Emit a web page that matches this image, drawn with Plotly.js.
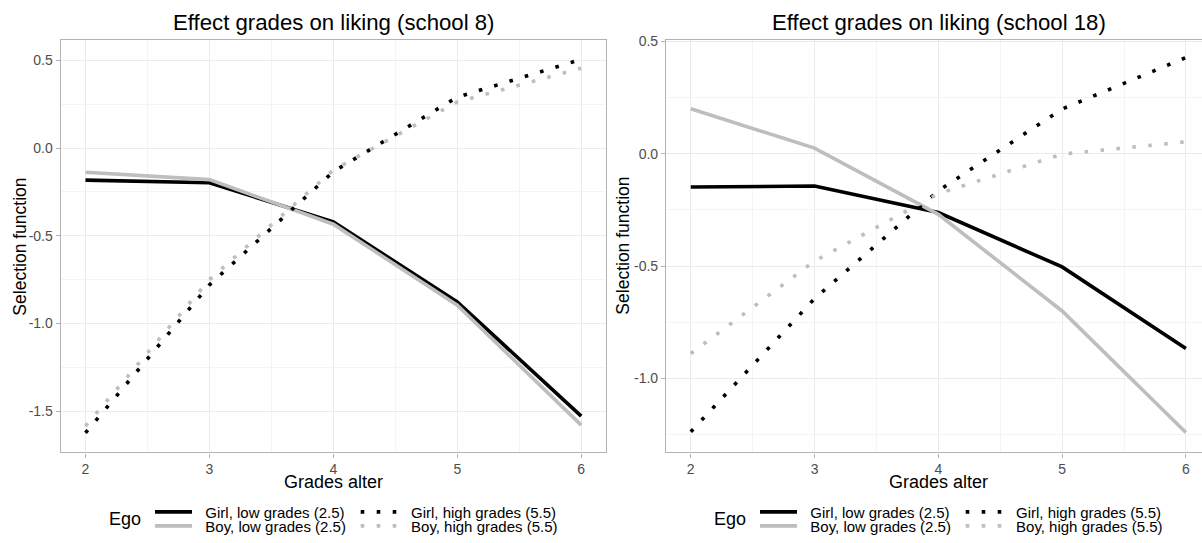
<!DOCTYPE html>
<html>
<head>
<meta charset="utf-8">
<script src="https://cdn.plot.ly/plotly-3.0.1.min.js"></script>
<style>html,body{margin:0;padding:0;background:#fff;}</style>
</head>
<body>
<div id="chart" style="width:1202px;height:543px;"></div>
<script>
// ---- data ----
var gradesAlter = [2, 3, 4, 5, 6];
var seriesNames = ["Girl, low grades (2.5)", "Boy, low grades (2.5)", "Girl, high grades (5.5)", "Boy, high grades (5.5)"];
// school 8
var s8GirlLow  = [-0.183, -0.198, -0.421, -0.877, -1.528];
var s8BoyLow   = [-0.138, -0.180, -0.434, -0.896, -1.579];
var s8GirlHigh = [-1.623, -0.780, -0.135, 0.290, 0.505];
var s8BoyHigh  = [-1.585, -0.750, -0.125, 0.262, 0.455];
// school 18
var s18GirlLow  = [-0.148, -0.144, -0.262, -0.504, -0.867];
var s18BoyLow   = [0.200, 0.025, -0.270, -0.700, -1.241];
var s18GirlHigh = [-1.238, -0.645, -0.165, 0.199, 0.428];
var s18BoyHigh  = [-0.890, -0.478, -0.178, -0.002, 0.053];
// tick labels
var xTickVals = [2, 3, 4, 5, 6];
var xTickText = ["2", "3", "4", "5", "6"];
var y8TickVals = [0.5, 0, -0.5, -1, -1.5];
var y8TickText = ["0.5", "0.0", "-0.5", "-1.0", "-1.5"];
var y18TickVals = [0.5, 0, -0.5, -1];
var y18TickText = ["0.5", "0.0", "-0.5", "-1.0"];
var xMinorVals = [2.5, 3.5, 4.5, 5.5];
var y8MinorVals = [0.25, -0.25, -0.75, -1.25];
var y18MinorVals = [0.25, -0.25, -0.75, -1.25];

// ---- styling ----
var W = 1202, H = 543;
function px(x) { return x / W; }
function py(y) { return 1 - y / H; }
var FONT = "Liberation Sans, Arial, Helvetica, sans-serif";
var BLACK = "#000000", GREY = "#BEBEBE";
var LW = 3.6;
var DOT = "3.6px,12.4px";
var styles = [
  {color: BLACK, dash: "solid"},
  {color: GREY, dash: "solid"},
  {color: BLACK, dash: DOT},
  {color: GREY, dash: DOT}
];
var GAP = "\u00a0\u00a0"; // extra space between key and label, as in the reference

function makeTraces(vals, xa, ya, legendIds) {
  return vals.map(function (v, i) {
    return {
      type: "scatter", mode: "lines",
      x: gradesAlter, y: v,
      xaxis: xa, yaxis: ya,
      name: GAP + seriesNames[i],
      legend: legendIds[i],
      line: {color: styles[i].color, width: LW, dash: styles[i].dash},
      hoverinfo: "x+y"
    };
  });
}

var traces = []
  .concat(makeTraces([s8GirlLow, s8BoyLow, s8GirlHigh, s8BoyHigh], "x", "y", ["legend", "legend2", "legend3", "legend4"]))
  .concat(makeTraces([s18GirlLow, s18BoyLow, s18GirlHigh, s18BoyHigh], "x2", "y2", ["legend5", "legend6", "legend7", "legend8"]));

var GRID = "#EBEBEB", MINOR = "#F4F4F4", FRAME = "#B3B3B3", TICKC = "#4D4D4D";
function xAxis(domain, range) {
  return {
    domain: domain, range: range, tickmode: "array", tickvals: xTickVals, ticktext: xTickText,
    showgrid: true, gridcolor: GRID, gridwidth: 1, zeroline: false,
    minor: {tickmode: "array", tickvals: xMinorVals, showgrid: true, gridcolor: MINOR, gridwidth: 1, ticks: ""},
    showline: true, linecolor: FRAME, linewidth: 1.2, mirror: true,
    ticks: "outside", ticklen: 4, tickwidth: 1.1, tickcolor: FRAME,
    tickfont: {family: FONT, size: 14, color: TICKC}, fixedrange: true
  };
}
function yAxis(domain, range, tv, tt, mv, anchor, mirror) {
  return {
    domain: domain, range: range, anchor: anchor, tickmode: "array", tickvals: tv, ticktext: tt,
    showgrid: true, gridcolor: GRID, gridwidth: 1, zeroline: false,
    minor: {tickmode: "array", tickvals: mv, showgrid: true, gridcolor: MINOR, gridwidth: 1, ticks: ""},
    showline: true, linecolor: FRAME, linewidth: 1.2, mirror: mirror,
    ticks: "outside", ticklen: 4, tickwidth: 1.1, tickcolor: FRAME,
    tickfont: {family: FONT, size: 14, color: TICKC}, fixedrange: true
  };
}

var yDom = [py(455), py(40.5)];
var layout = {
  width: W, height: H,
  margin: {l: 0, r: 0, t: 0, b: 0, pad: 0},
  paper_bgcolor: "#ffffff", plot_bgcolor: "#ffffff",
  font: {family: FONT, color: "#000"},
  xaxis: Object.assign(xAxis([px(60.7), px(606)], [1.8, 6.2]), {anchor: "y"}),
  yaxis: yAxis(yDom, [-1.735, 0.614], y8TickVals, y8TickText, y8MinorVals, "x", true),
  xaxis2: Object.assign(xAxis([px(666), 1], [1.8, 6.13]), {anchor: "y2"}),
  yaxis2: yAxis(yDom, [-1.33, 0.505], y18TickVals, y18TickText, y18MinorVals, "x2", false),
  annotations: [],
  showlegend: true
};

// legends: one per entry, placed like the ggplot 2x2 key
var legendFont = {family: FONT, size: 15, color: "#000"};
var legendPos = [
  [155, 515], [155, 529], [360.7, 515], [360.7, 529],
  [760, 515], [760, 529], [965.7, 515], [965.7, 529]
];
var legendKeys = ["legend", "legend2", "legend3", "legend4", "legend5", "legend6", "legend7", "legend8"];
legendKeys.forEach(function (k, i) {
  layout[k] = {
    x: px(legendPos[i][0] - 5), y: py(legendPos[i][1]), xanchor: "left", yanchor: "middle",
    orientation: "v", font: legendFont, bgcolor: "rgba(0,0,0,0)", borderwidth: 0,
    itemwidth: 37, itemclick: false, itemdoubleclick: false
  };
});

function ann(text, x, y, size, extra) {
  var a = {text: text, x: px(x), y: py(y), xref: "paper", yref: "paper", showarrow: false,
    xanchor: "center", yanchor: "middle", font: {family: FONT, size: size, color: "#000"}};
  return Object.assign(a, extra || {});
}
layout.annotations.push(ann("Effect grades on liking (school 8)", 333.3, 23, 22.2));
layout.annotations.push(ann("Effect grades on liking (school 18)", 938.5, 23, 22.2));
layout.annotations.push(ann("Grades alter", 333.3, 485, 18));
layout.annotations.push(ann("Grades alter", 938.5, 485, 18));
layout.annotations.push(ann("Selection function", 20, 248, 17.5, {textangle: -90}));
layout.annotations.push(ann("Selection function", 623, 247, 17.5, {textangle: -90}));
layout.annotations.push(ann("Ego", 125, 522, 18));
layout.annotations.push(ann("Ego", 730, 522, 18));

Plotly.newPlot("chart", traces, layout, {displayModeBar: false, responsive: false});
</script>
</body>
</html>
